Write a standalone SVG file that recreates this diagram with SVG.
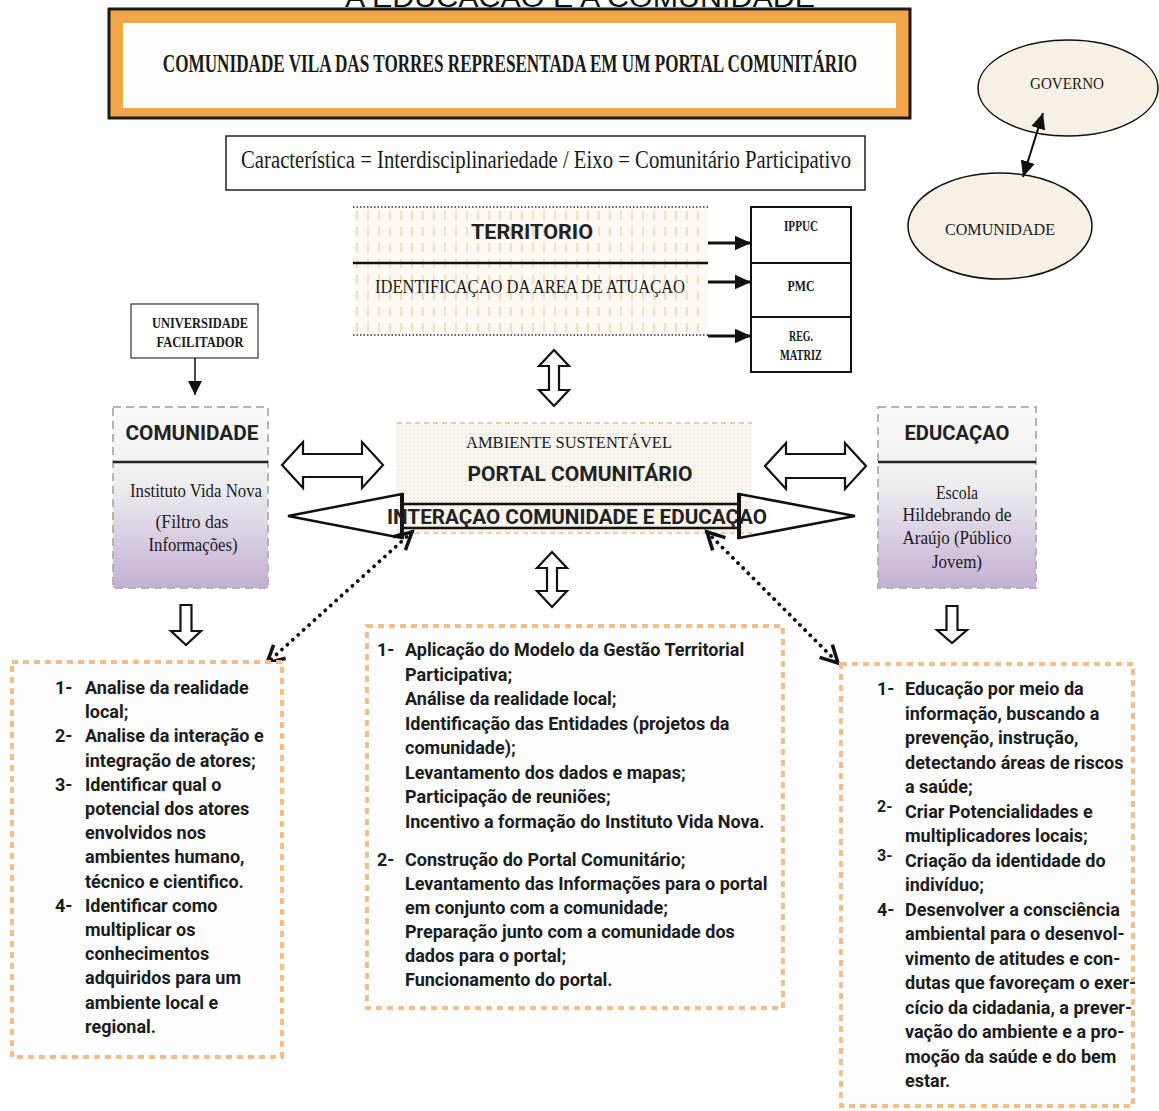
<svg xmlns="http://www.w3.org/2000/svg" width="1159" height="1111" viewBox="0 0 1159 1111">
<style>
.sb{font-family:Roboto,"Liberation Sans",sans-serif;font-weight:bold;fill:#1c1c1c}
.hd{font-family:Roboto,"Liberation Sans",sans-serif;font-weight:bold;fill:#222}
.sr{font-family:"Liberation Serif","Times New Roman",serif;fill:#1a1a1a}
.srb{font-family:"Liberation Serif","Times New Roman",serif;font-weight:bold;fill:#1a1a1a}
.ol{fill:#fff;stroke:#111;stroke-width:2.2;stroke-linejoin:miter}
.lst{stroke:#111;fill:none}
.obox{fill:#fdfdfe;stroke:#f5bd88;stroke-width:4;stroke-dasharray:6 5}
.side{stroke:#b4b4b4;stroke-width:2;stroke-dasharray:8 5}
</style>
<defs>
<pattern id="pDots" width="4" height="4" patternUnits="userSpaceOnUse"><rect width="4" height="4" fill="#fbf7f1"/><circle cx="2" cy="2" r="0.8" fill="#e2d7c6"/></pattern>
<pattern id="pDash" width="11" height="16" patternUnits="userSpaceOnUse"><rect width="11" height="16" fill="#fdf8f2"/><line x1="5" y1="3" x2="5" y2="12" stroke="#f2cfa6" stroke-width="1.3"/></pattern>
<linearGradient id="gSide" x1="0" y1="0" x2="0" y2="1"><stop offset="0" stop-color="#fafafa"/><stop offset="0.3" stop-color="#f2f1f2"/><stop offset="0.45" stop-color="#ecebee"/><stop offset="1" stop-color="#c3b0d3"/></linearGradient>
<marker id="fh" viewBox="0 0 10 10" refX="10" refY="5" markerWidth="14" markerHeight="14" markerUnits="userSpaceOnUse" orient="auto-start-reverse"><path d="M0,0 L10,5 L0,10 z" fill="#111"/></marker>
<marker id="fh2" viewBox="0 0 10 10" refX="10" refY="5" markerWidth="16" markerHeight="16" markerUnits="userSpaceOnUse" orient="auto-start-reverse"><path d="M0,0.5 L10,5 L0,9.5 z" fill="#111"/></marker>
<marker id="vh" viewBox="-20 -12 24 24" refX="0" refY="0" markerWidth="24" markerHeight="24" markerUnits="userSpaceOnUse" orient="auto-start-reverse"><path d="M-17,-9 L0,0 L-17,9" fill="none" stroke="#111" stroke-width="3.5"/></marker>
</defs>
<rect width="1159" height="1111" fill="#fff"/>

<text x="580" y="7" font-family="'Liberation Sans',Arial,sans-serif" font-size="28" text-anchor="middle" textLength="470" lengthAdjust="spacingAndGlyphs" fill="#111">A EDUCAÇÃO E A COMUNIDADE</text>

<g id="banner">
<rect x="109" y="9" width="801" height="109" fill="#f2a649" stroke="#1e1a14" stroke-width="3"/>
<rect x="123" y="23" width="773" height="85" fill="#fffefc"/>
<text class="srb" transform="translate(510,72) scale(0.66,1)" x="0" y="0" font-size="26" text-anchor="middle">COMUNIDADE VILA DAS TORRES REPRESENTADA EM UM PORTAL COMUNITÁRIO</text>
</g>

<g id="caracteristica">
<rect x="226" y="136" width="639" height="54" fill="#fff" stroke="#222" stroke-width="1.5"/>
<text class="sr" x="241" y="168" font-size="25" textLength="610" lengthAdjust="spacingAndGlyphs">Característica = Interdisciplinariedade  /  Eixo = Comunitário Participativo</text>
</g>

<g id="governo">
<ellipse cx="1068" cy="88" rx="90" ry="48" fill="#f6f1e4" stroke="#111" stroke-width="1.5"/>
<text class="sr" x="1067" y="89" font-size="17" text-anchor="middle" textLength="74" lengthAdjust="spacingAndGlyphs">GOVERNO</text>
</g>
<g id="comunidade-ellipse">
<ellipse cx="1000" cy="226" rx="92" ry="53" fill="#f6f1e4" stroke="#111" stroke-width="1.5"/>
<text class="sr" x="1000" y="235" font-size="17" text-anchor="middle" textLength="110" lengthAdjust="spacingAndGlyphs">COMUNIDADE</text>
</g>

<g id="territorio">
<rect x="353" y="207" width="355" height="128" fill="url(#pDash)"/>
<line x1="353" y1="207" x2="708" y2="207" stroke="#333" stroke-width="1.5" stroke-dasharray="1.5 2"/>
<line x1="353" y1="335" x2="708" y2="335" stroke="#333" stroke-width="1.5" stroke-dasharray="1.5 2"/>
<line x1="353" y1="263" x2="708" y2="263" stroke="#111" stroke-width="2.5"/>
<text class="hd" x="532" y="239" font-size="20.5" text-anchor="middle" textLength="122" lengthAdjust="spacingAndGlyphs">TERRITORIO</text>
<text class="sr" x="530" y="293" font-size="18" text-anchor="middle" textLength="310" lengthAdjust="spacingAndGlyphs">IDENTIFICAÇAO DA AREA DE ATUAÇAO</text>
</g>

<g id="ippuc">
<rect x="751" y="207" width="100" height="56" fill="#fff" stroke="#111" stroke-width="2"/>
<text class="srb" x="801" y="231" font-size="14.5" text-anchor="middle" textLength="34" lengthAdjust="spacingAndGlyphs">IPPUC</text>
</g>
<g id="pmc">
<rect x="751" y="263" width="100" height="54" fill="#fff" stroke="#111" stroke-width="2"/>
<text class="srb" x="801" y="291" font-size="14.5" text-anchor="middle" textLength="27" lengthAdjust="spacingAndGlyphs">PMC</text>
</g>
<g id="regmatriz">
<rect x="751" y="317" width="100" height="55" fill="#fff" stroke="#111" stroke-width="2"/>
<text class="srb" x="801" y="341" font-size="14.5" text-anchor="middle" textLength="24" lengthAdjust="spacingAndGlyphs">REG.</text>
<text class="srb" x="801" y="360" font-size="14.5" text-anchor="middle" textLength="42" lengthAdjust="spacingAndGlyphs">MATRIZ</text>
</g>

<g id="universidade">
<rect x="131" y="304" width="127" height="54" fill="#fff" stroke="#333" stroke-width="1.2"/>
<text class="srb" x="200" y="328" font-size="14" text-anchor="middle" textLength="96" lengthAdjust="spacingAndGlyphs">UNIVERSIDADE</text>
<text class="srb" x="200" y="347" font-size="14" text-anchor="middle" textLength="87" lengthAdjust="spacingAndGlyphs">FACILITADOR</text>
</g>

<g id="comunidade">
<rect x="113" y="407" width="155" height="181" fill="url(#gSide)" class="side"/>
<line x1="113" y1="462" x2="268" y2="462" stroke="#222" stroke-width="2.5"/>
<text class="hd" x="192" y="440" font-size="21" text-anchor="middle" textLength="133" lengthAdjust="spacingAndGlyphs">COMUNIDADE</text>
<text class="sr" x="196" y="497" font-size="18.5" text-anchor="middle" textLength="132" lengthAdjust="spacingAndGlyphs">Instituto Vida Nova</text>
<text class="sr" x="192" y="528" font-size="18.5" text-anchor="middle" textLength="73" lengthAdjust="spacingAndGlyphs">(Filtro das</text>
<text class="sr" x="193" y="551" font-size="18.5" text-anchor="middle" textLength="89" lengthAdjust="spacingAndGlyphs">Informações)</text>
</g>

<g id="educacao">
<rect x="878" y="407" width="158" height="181" fill="url(#gSide)" class="side"/>
<line x1="878" y1="462" x2="1036" y2="462" stroke="#222" stroke-width="2.5"/>
<text class="hd" x="957" y="440" font-size="20.5" text-anchor="middle" textLength="105" lengthAdjust="spacingAndGlyphs">EDUCAÇAO</text>
<text class="sr" x="957" y="499" font-size="18.5" text-anchor="middle" textLength="42" lengthAdjust="spacingAndGlyphs">Escola</text>
<text class="sr" x="957" y="521" font-size="18.5" text-anchor="middle" textLength="109" lengthAdjust="spacingAndGlyphs">Hildebrando de</text>
<text class="sr" x="957" y="544" font-size="18.5" text-anchor="middle" textLength="109" lengthAdjust="spacingAndGlyphs">Araújo (Público</text>
<text class="sr" x="957" y="568" font-size="18.5" text-anchor="middle" textLength="50" lengthAdjust="spacingAndGlyphs">Jovem)</text>
</g>

<g id="portal">
<rect x="397" y="423" width="355" height="110" fill="url(#pDots)"/>
<line x1="397" y1="423" x2="752" y2="423" stroke="#f5c9a0" stroke-width="2" stroke-dasharray="5 4"/>
<line x1="397" y1="533" x2="752" y2="533" stroke="#f5c9a0" stroke-width="2" stroke-dasharray="5 4"/>
<text class="sr" x="569" y="448" font-size="17.5" text-anchor="middle" textLength="206" lengthAdjust="spacingAndGlyphs">AMBIENTE SUSTENTÁVEL</text>
<text class="hd" x="580" y="481" font-size="20" text-anchor="middle" textLength="225" lengthAdjust="spacingAndGlyphs">PORTAL COMUNITÁRIO</text>
</g>

<g id="interacao">
<path d="M288,516 L402,494 L402,504 L739,504 L739,494 L855,516 L739,538 L739,528 L402,528 L402,538 Z" fill="none" stroke="#111" stroke-width="2.5" stroke-linejoin="miter"/>
<line x1="402" y1="493" x2="402" y2="539" stroke="#111" stroke-width="4"/>
<line x1="739" y1="493" x2="739" y2="539" stroke="#111" stroke-width="4"/>
<text class="hd" x="387" y="524" font-size="21" textLength="380" lengthAdjust="spacingAndGlyphs">INTERAÇAO COMUNIDADE E EDUCAÇAO</text>
</g>

<g id="connectors">
<line x1="1043" y1="113" x2="1023" y2="177" class="lst" stroke-width="2" marker-start="url(#fh2)" marker-end="url(#fh2)"/>
<line x1="708" y1="243" x2="751" y2="243" class="lst" stroke-width="3" marker-end="url(#fh2)"/>
<line x1="708" y1="282" x2="751" y2="282" class="lst" stroke-width="3" marker-end="url(#fh2)"/>
<line x1="708" y1="336" x2="751" y2="336" class="lst" stroke-width="3" marker-end="url(#fh2)"/>
<line x1="195" y1="358" x2="195" y2="395" class="lst" stroke-width="1.5" marker-end="url(#fh)"/>
<path class="ol" d="M554,350 L569,366 L559,366 L559,390 L569,390 L554,406 L539,390 L549,390 L549,366 L539,366 Z"/>
<path class="ol" d="M552,552 L567,568 L557,568 L557,591 L567,591 L552,607 L537,591 L547,591 L547,568 L537,568 Z"/>
<path class="ol" d="M282,465 L303,442 L303,454 L362,454 L362,442 L383,465 L362,488 L362,477 L303,477 L303,488 Z"/>
<path class="ol" d="M765,466 L786,443 L786,454 L845,454 L845,443 L866,466 L845,489 L845,478 L786,478 L786,489 Z"/>
<path class="ol" d="M180.5,605 L191.5,605 L191.5,631 L201,631 L186,645 L171,631 L180.5,631 Z"/>
<path class="ol" d="M946.5,606 L957.5,606 L957.5,630 L967,630 L952,643 L937,630 L946.5,630 Z"/>
<line x1="412" y1="532" x2="267" y2="663" stroke="#111" stroke-width="3.8" stroke-linecap="round" stroke-dasharray="0.1 7.2" marker-start="url(#vh)" marker-end="url(#vh)"/>
<line x1="707" y1="532" x2="838" y2="663" stroke="#111" stroke-width="3.8" stroke-linecap="round" stroke-dasharray="0.1 7.2" marker-start="url(#vh)" marker-end="url(#vh)"/>
</g>

<g id="lista-comunidade">
<rect class="obox" x="12" y="662" width="270" height="395"/>
<g class="sb" font-size="18">
<text x="55" y="694">1-</text><text x="85" y="694">Analise da realidade</text>
<text x="85" y="718.2">local;</text>
<text x="55" y="742.4">2-</text><text x="85" y="742.4">Analise da interação e</text>
<text x="85" y="766.6">integração de atores;</text>
<text x="55" y="790.8">3-</text><text x="85" y="790.8">Identificar qual o</text>
<text x="85" y="815">potencial dos atores</text>
<text x="85" y="839.2">envolvidos nos</text>
<text x="85" y="863.4">ambientes humano,</text>
<text x="85" y="887.6">técnico e cientifico.</text>
<text x="55" y="911.8">4-</text><text x="85" y="911.8">Identificar como</text>
<text x="85" y="936">multiplicar os</text>
<text x="85" y="960.2">conhecimentos</text>
<text x="85" y="984.4">adquiridos para um</text>
<text x="85" y="1008.6">ambiente local e</text>
<text x="85" y="1032.8">regional.</text>
</g>
</g>

<g id="lista-portal">
<rect class="obox" x="367" y="626" width="416" height="382"/>
<g class="sb" font-size="18">
<text x="377" y="656">1-</text><text x="405" y="656">Aplicação do Modelo da Gestão Territorial</text>
<text x="405" y="680.5">Participativa;</text>
<text x="405" y="705">Análise da realidade local;</text>
<text x="405" y="729.5">Identificação das Entidades (projetos da</text>
<text x="405" y="754">comunidade);</text>
<text x="405" y="778.5">Levantamento dos dados e mapas;</text>
<text x="405" y="803">Participação de reuniões;</text>
<text x="405" y="827.5">Incentivo a formação do Instituto Vida Nova.</text>
<text x="377" y="866">2-</text><text x="405" y="866">Construção do Portal Comunitário;</text>
<text x="405" y="890">Levantamento das Informações para o portal</text>
<text x="405" y="914">em conjunto com a comunidade;</text>
<text x="405" y="938">Preparação junto com a comunidade dos</text>
<text x="405" y="962">dados para o portal;</text>
<text x="405" y="986">Funcionamento do portal.</text>
</g>
</g>

<g id="lista-educacao">
<rect class="obox" x="841" y="664" width="292" height="442"/>
<g class="sb" font-size="18">
<text x="877" y="695">1-</text><text x="905" y="695">Educação por meio da</text>
<text x="905" y="719.5">informação, buscando a</text>
<text x="905" y="744">prevenção, instrução,</text>
<text x="905" y="768.5">detectando áreas de riscos</text>
<text x="905" y="793">a saúde;</text>
<text x="877" y="812" font-size="16">2-</text><text x="905" y="817.5">Criar Potencialidades e</text>
<text x="905" y="842">multiplicadores locais;</text>
<text x="877" y="861" font-size="16">3-</text><text x="905" y="866.5">Criação da identidade do</text>
<text x="905" y="891">indivíduo;</text>
<text x="877" y="915.5">4-</text><text x="905" y="915.5">Desenvolver a consciência</text>
<text x="905" y="940">ambiental para o desenvol-</text>
<text x="905" y="964.5">vimento de atitudes e con-</text>
<text x="905" y="989">dutas que favoreçam o exer-</text>
<text x="905" y="1013.5">cício da cidadania, a prever-</text>
<text x="905" y="1038">vação do ambiente e a pro-</text>
<text x="905" y="1062.5">moção da saúde e do bem</text>
<text x="905" y="1087">estar.</text>
</g>
</g>
</svg>
